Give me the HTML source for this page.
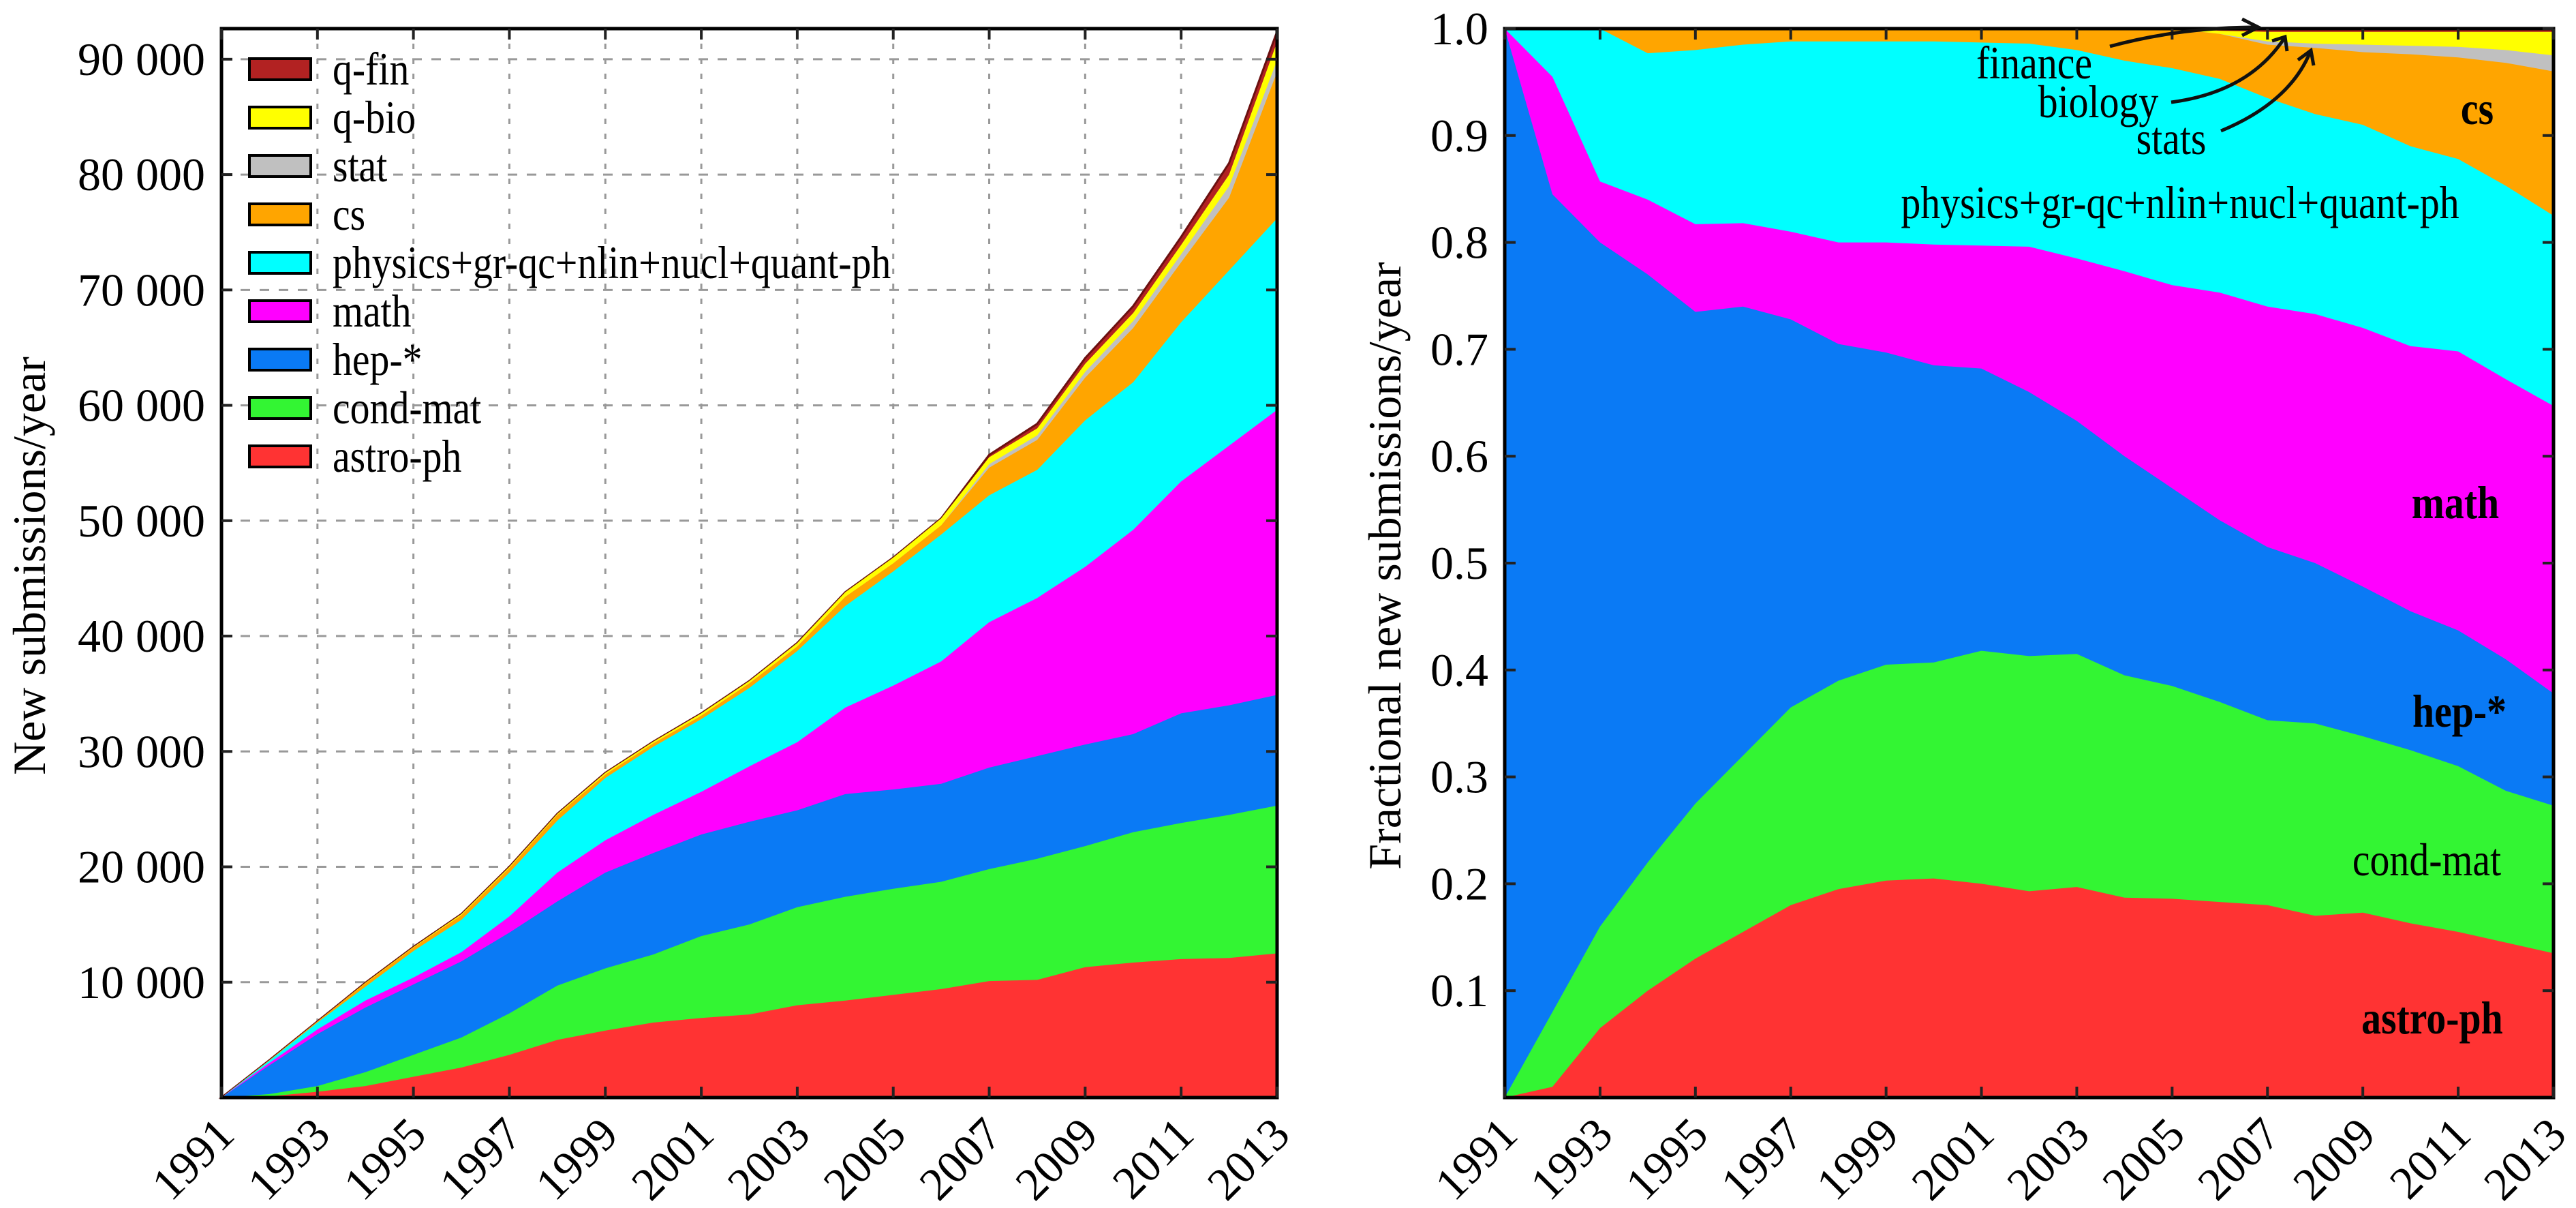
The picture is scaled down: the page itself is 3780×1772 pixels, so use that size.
<!DOCTYPE html>
<html><head><meta charset="utf-8">
<style>
html,body{margin:0;padding:0;background:#fff;}
svg{display:block;font-family:"Liberation Serif",serif;}
</style></head>
<body>
<svg id="fig" width="3780" height="1772" viewBox="0 0 3780 1772" xmlns="http://www.w3.org/2000/svg">
<g id="left"></g>
<g id="right"></g>
</svg>
<script>
const years = [1991,1992,1993,1994,1995,1996,1997,1998,1999,2000,2001,2002,2003,2004,2005,2006,2007,2008,2009,2010,2011,2012,2013];
const seriesNames = ["astro-ph","cond-mat","hep-*","math","physics+gr-qc+nlin+nucl+quant-ph","cs","stat","q-bio","q-fin"];
const seriesColors = ["#ff3333","#33f533","#0a7af5","#ff00ff","#00ffff","#ffa500","#c0c0c0","#ffff00","#b22222"];
// left chart: stacked tops (cumulative submissions/year)
const absAstro = [0,100,500,1000,1800,2600,3700,5000,5800,6500,6900,7200,8000,8400,8900,9400,10100,10200,11300,11700,12000,12100,12500];
const absCond = [0,300,1000,2200,3700,5200,7300,9700,11200,12400,14000,15000,16500,17400,18100,18700,19800,20700,21800,23000,23800,24500,25300];
const absHep = [0,2800,5500,7800,9800,11800,14300,17000,19500,21200,22800,23900,24900,26300,26700,27200,28600,29600,30600,31500,33300,34000,34900];
const absMath = [0,3000,5900,8400,10400,12600,15700,19500,22300,24500,26500,28700,30800,33800,35700,37800,41200,43300,46000,49200,53400,56500,59600];
const absPhys = [0,3200,6500,9600,12700,15400,19500,24000,27700,30400,32800,35500,38700,42600,45600,48800,52200,54400,58700,62000,67200,71700,76200];
const absCs = [0,3250,6600,9900,13000,15800,19900,24500,28000,30700,33100,35900,39100,43400,46300,49600,54600,57000,62400,66700,72400,78000,88900];
const absStat = [0,3250,6600,9900,13000,15800,19900,24500,28000,30700,33100,35900,39100,43400,46300,49600,54900,57400,62900,67300,73100,79000,89900];
const absQbio = [0,3250,6600,9950,13050,15900,20000,24600,28150,30850,33300,36100,39400,43800,46800,50200,55500,58000,63600,68000,73900,80000,91500];
const absQfin = [0,3250,6600,9950,13050,15900,20000,24600,28150,30850,33300,36100,39400,43800,46800,50200,55700,58400,64100,68600,74600,81000,92400];
const absTicks = [10000,20000,30000,40000,50000,60000,70000,80000,90000];
const absTickLabels = ["10 000","20 000","30 000","40 000","50 000","60 000","70 000","80 000","90 000"];
// right chart: stacked tops (fractions)
const fracAstro = [0,0.01,0.065,0.1,0.13,0.155,0.18,0.195,0.203,0.205,0.2,0.193,0.197,0.187,0.186,0.183,0.18,0.17,0.173,0.163,0.155,0.145,0.135];
const fracCond = [0,0.08,0.16,0.22,0.275,0.32,0.365,0.39,0.405,0.407,0.418,0.413,0.415,0.395,0.385,0.37,0.353,0.35,0.338,0.325,0.31,0.287,0.273];
const fracHep = [1,0.845,0.8,0.77,0.735,0.74,0.728,0.705,0.697,0.685,0.682,0.66,0.633,0.6,0.57,0.54,0.515,0.5,0.478,0.455,0.437,0.41,0.378];
const fracMath = [1,0.955,0.857,0.84,0.817,0.818,0.81,0.8,0.8,0.798,0.797,0.796,0.785,0.773,0.76,0.753,0.74,0.733,0.72,0.703,0.698,0.672,0.647];
const fracPhys = [1,1,1,0.977,0.98,0.985,0.988,0.988,0.988,0.988,0.987,0.986,0.98,0.97,0.963,0.953,0.935,0.92,0.91,0.89,0.878,0.853,0.825];
const fracCs = [1,1,1,1,1,1,1,1,1,1,1,1,1,1,1,0.995,0.985,0.982,0.978,0.976,0.973,0.968,0.96];
const fracStat = [1,1,1,1,1,1,1,1,1,1,1,1,1,1,1,0.995,0.988,0.986,0.985,0.984,0.983,0.98,0.975];
const fracQbio = [1,1,1,1,1,1,1,1,1,1,1,1,1,1,1,0.998,0.997,0.997,0.997,0.997,0.997,0.997,0.997];
const fracQfin = [1,1,1,1,1,1,1,1,1,1,1,1,1,1,1,1,1,1,1,1,1,1,1];
const fracTicks = [0.1,0.2,0.3,0.4,0.5,0.6,0.7,0.8,0.9,1.0];
const fracTickLabels = ["0.1","0.2","0.3","0.4","0.5","0.6","0.7","0.8","0.9","1.0"];
const yearTicks = [1991,1993,1995,1997,1999,2001,2003,2005,2007,2009,2011,2013];

const NS="http://www.w3.org/2000/svg";
function mk(parent,tag,attrs,text){const e=document.createElementNS(NS,tag);for(const k in attrs)e.setAttribute(k,attrs[k]);if(text!==undefined)e.textContent=text;parent.appendChild(e);return e;}

function drawChart(g,cfg){
  const {x0,x1,y0,y1,ymax,stacks,ticks,tickLabels,grid}=cfg;
  const X=yr=>x0+(yr-years[0])/(years[years.length-1]-years[0])*(x1-x0);
  const Y=v=>y1-v/ymax*(y1-y0);
  if(grid){
    yearTicks.forEach(yr=>{const l=mk(g,'line',{x1:X(yr),x2:X(yr),y1:y0,y2:y1,stroke:'#999','stroke-width':3,'stroke-dasharray':'8 14'});
      
      });
    ticks.forEach(t=>{const l=mk(g,'line',{x1:x0,x2:x1,y1:Y(t),y2:Y(t),stroke:'#999','stroke-width':3,'stroke-dasharray':'14 14'});
      
      });
  }
  for(let s=stacks.length-1;s>=0;s--){
    const top=stacks[s];
    let d='M'+X(years[0])+','+Y(0);
    years.forEach((yr,i)=>{d+=' L'+X(yr).toFixed(1)+','+Y(top[i]).toFixed(1);});
    d+=' L'+X(years[years.length-1])+','+Y(0)+' Z';
    const p=mk(g,'path',{d:d,fill:seriesColors[s],stroke:s===8&&grid?'#6b1010':'none','stroke-width':3});
    
    
  }
  const f=mk(g,'rect',{x:x0,y:y0,width:x1-x0,height:y1-y0,fill:'none',stroke:'#000','stroke-width':5});
  
  
  ticks.forEach((t,i)=>{
    mk(g,'line',{x1:x0,x2:x0+16,y1:Y(t),y2:Y(t),stroke:'#222','stroke-width':4});
    mk(g,'line',{x1:x1,x2:x1-16,y1:Y(t),y2:Y(t),stroke:'#222','stroke-width':4});
    const tx=mk(g,'text',{x:x0-24,y:Y(t)+23,'text-anchor':'end','font-size':68},tickLabels[i]);
    
    
  });
  yearTicks.forEach(yr=>{
    mk(g,'line',{x1:X(yr),x2:X(yr),y1:y1,y2:y1-16,stroke:'#222','stroke-width':4});
    mk(g,'line',{x1:X(yr),x2:X(yr),y1:y0,y2:y0+16,stroke:'#222','stroke-width':4});
    const tx=mk(g,'text',{x:X(yr)+22,y:y1+58,'text-anchor':'end','font-size':68,transform:'rotate(-45 '+(X(yr)+22)+' '+(y1+58)+')'},String(yr));
    
    
  });
  return {X,Y};
}

const L=document.getElementById('left');
drawChart(L,{x0:325,x1:1874,y0:42,y1:1610,ymax:92650,stacks:[absAstro,absCond,absHep,absMath,absPhys,absCs,absStat,absQbio,absQfin],ticks:absTicks,tickLabels:absTickLabels,grid:true});
const lt=mk(L,'text',{x:0,y:0,'text-anchor':'middle','font-size':68,transform:'translate(66 830) rotate(-90)'},'New submissions/year');


const legendOrder=[8,7,6,5,4,3,2,1,0];
legendOrder.forEach((s,i)=>{
  const yy=86+i*71;
  const r=mk(L,'rect',{x:366,y:yy,width:90,height:31,fill:seriesColors[s],stroke:'#000','stroke-width':4});
  
  
  const t=mk(L,'text',{x:0,y:0,'font-size':68,transform:'translate(488 '+(yy+38)+') scale(0.85 1)'},seriesNames[s]);
  
  
});

const R=document.getElementById('right');
drawChart(R,{x0:2208,x1:3747,y0:42,y1:1610,ymax:1.0,stacks:[fracAstro,fracCond,fracHep,fracMath,fracPhys,fracCs,fracStat,fracQbio,fracQfin],ticks:fracTicks,tickLabels:fracTickLabels,grid:false});
const rt=mk(R,'text',{x:0,y:0,'text-anchor':'middle','font-size':68,transform:'translate(2055 830) rotate(-90)'},'Fractional new submissions/year');


const labels=[["cs",3635,182,true],["physics+gr-qc+nlin+nucl+quant-ph",3199,320,false],["math",3603,760,true],["hep-*",3609,1066,true],["cond-mat",3561,1284,false],["astro-ph",3569,1516,true],["finance",2985,115,false],["biology",3079,172,false],["stats",3186,226,false]];
labels.forEach(l=>{
  const t=mk(R,'text',{x:0,y:0,'text-anchor':'middle','font-size':68,'font-weight':l[3]?'bold':'normal',transform:'translate('+l[1]+' '+l[2]+') scale(0.85 1)'},l[0]);
  
  
});
const arrows=[["M3096 68 Q3200 40 3312 40"],["M3186 150 Q3300 135 3352 56"],["M3259 192 Q3360 150 3390 76"]];
arrows.forEach(a=>{
  const p=mk(R,'path',{d:a[0],fill:'none',stroke:'#111','stroke-width':5});
  
  
});
mk(R,'path',{d:'M3290 28 L3314 40 L3290 52',fill:'none',stroke:'#111','stroke-width':5});
mk(R,'path',{d:'M3334 60 L3353 54 L3356 75',fill:'none',stroke:'#111','stroke-width':5});
mk(R,'path',{d:'M3372 88 L3391 74 L3395 96',fill:'none',stroke:'#111','stroke-width':5});
</script>
</body></html>
